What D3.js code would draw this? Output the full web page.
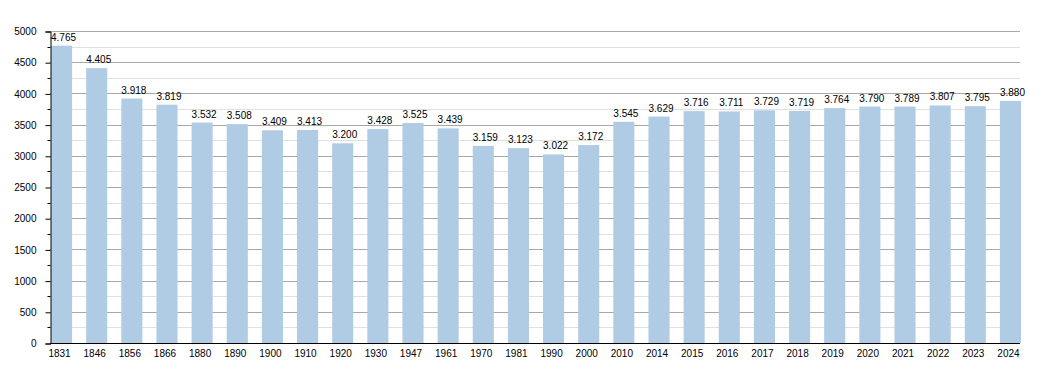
<!DOCTYPE html>
<html>
<head>
<meta charset="utf-8">
<script src="https://cdn.jsdelivr.net/npm/d3@7"></script>
<style>
  body { margin: 0; background: #fff; }
  text { font-family: "Liberation Sans", Arial, sans-serif; font-size: 10px; fill: #000; }
</style>
</head>
<body>
<script>
// population by census year
var years = ["1831", "1846", "1856", "1866", "1880", "1890", "1900", "1910", "1920", "1930",
  "1947", "1961", "1970", "1981", "1990", "2000", "2010", "2014", "2015", "2016",
  "2017", "2018", "2019", "2020", "2021", "2022", "2023", "2024"];
var population = [4765, 4405, 3918, 3819, 3532, 3508, 3409, 3413, 3200, 3428,
  3525, 3439, 3159, 3123, 3022, 3172, 3545, 3629, 3716, 3711,
  3729, 3719, 3764, 3790, 3789, 3807, 3795, 3880];
var yTicks = [0, 500, 1000, 1500, 2000, 2500, 3000, 3500, 4000, 4500, 5000];

var width = 1050, height = 373;
var plotLeft = 50, plotRight = 1020, plotTop = 31, plotBottom = 343;

var svg = d3.select("body").append("svg")
    .attr("width", width)
    .attr("height", height);

var x = d3.scaleBand()
    .domain(years)
    .range([plotLeft + 1, plotRight + 1])
    .paddingInner(0.4)
    .paddingOuter(0)
    .align(0);

var y = d3.scaleLinear()
    .domain([0, 5000])
    .range([plotBottom, plotTop]);

var minor = d3.range(250, 5000, 500);

// grid lines
svg.append("g").selectAll("line")
  .data(minor)
  .enter().append("line")
    .attr("x1", plotLeft).attr("x2", plotRight)
    .attr("y1", function(d) { return Math.round(y(d)) + 0.5; })
    .attr("y2", function(d) { return Math.round(y(d)) + 0.5; })
    .attr("stroke", "#e0e0e0");

svg.append("g").selectAll("line")
  .data(yTicks.slice(1))
  .enter().append("line")
    .attr("x1", plotLeft).attr("x2", plotRight)
    .attr("y1", function(d) { return Math.round(y(d)) + 0.5; })
    .attr("y2", function(d) { return Math.round(y(d)) + 0.5; })
    .attr("stroke", "#a8a8a8");

// bars
svg.append("g").selectAll("rect")
  .data(population)
  .enter().append("rect")
    .attr("x", function(d, i) { return x(years[i]); })
    .attr("y", function(d) { return y(d); })
    .attr("width", x.bandwidth())
    .attr("height", function(d) { return plotBottom - y(d); })
    .attr("fill", "#b0cbe4");

// value labels
svg.append("g").selectAll("text")
  .data(population)
  .enter().append("text")
    .attr("x", function(d, i) { return x(years[i]) + x.bandwidth() / 2 + 2; })
    .attr("y", function(d) { return y(d) - 5; })
    .attr("text-anchor", "middle")
    .text(function(d) { return d3.format(",")(d).replace(",", "."); });

// y axis
var yAxis = d3.axisLeft(y)
    .tickValues(yTicks)
    .tickSize(5)
    .tickPadding(9)
    .tickFormat(d3.format("d"));
var gy = svg.append("g")
    .attr("transform", "translate(" + (plotLeft + 0.5) + ",0.5)")
    .call(yAxis);
gy.select(".domain").attr("stroke", "#000");
gy.selectAll(".tick text").attr("font-size", 10).attr("font-family", null);

gy.selectAll(".minor")
  .data(minor)
  .enter().append("line")
    .attr("class", "minor")
    .attr("x1", -3).attr("x2", 0)
    .attr("y1", function(d) { return Math.round(y(d)); })
    .attr("y2", function(d) { return Math.round(y(d)); })
    .attr("stroke", "#000");

// x axis
var xAxis = d3.axisBottom(x).tickSize(0).tickPadding(6);
var gx = svg.append("g")
    .attr("transform", "translate(0," + (plotBottom + 0.5) + ")")
    .call(xAxis);
gx.select(".domain").attr("d", "M" + plotLeft + ",0H" + plotRight).attr("stroke", "#000");
gx.selectAll(".tick text").attr("font-size", 10).attr("font-family", null).attr("dx", -2);
</script>
</body>
</html>
